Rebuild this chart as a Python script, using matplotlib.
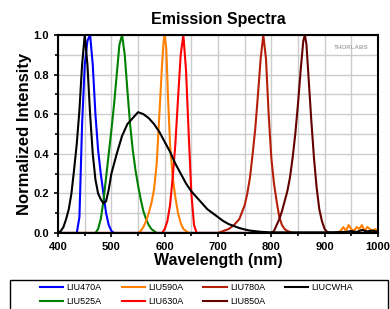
import matplotlib
matplotlib.use("Agg")
import matplotlib.pyplot as plt
from matplotlib.ticker import MultipleLocator
from matplotlib.patches import Rectangle

plt.rcParams['font.family'] = ['Liberation Sans', 'DejaVu Sans']
plt.rcParams['font.weight'] = 'bold'

# spectra (wavelength nm, normalized intensity)
wl_470 = [400, 435, 440, 445, 450, 455, 460, 465, 470, 475, 480, 485, 490, 495, 500, 505, 1000]
i_470 = [0, 0, 0.08, 0.55, 0.85, 0.97, 1.0, 0.85, 0.6, 0.42, 0.3, 0.2, 0.1, 0.04, 0.01, 0, 0]

wl_525 = [400, 470, 475, 480, 485, 490, 495, 500, 505, 510, 515, 520, 525, 530, 535, 540,
          545, 550, 555, 560, 565, 570, 575, 580, 585, 1000]
i_525 = [0, 0, 0.02, 0.07, 0.16, 0.28, 0.4, 0.52, 0.65, 0.8, 0.95, 1.0, 0.9, 0.72, 0.55, 0.42,
         0.32, 0.24, 0.17, 0.11, 0.07, 0.04, 0.02, 0.01, 0, 0]

wl_590 = [400, 550, 555, 560, 565, 570, 575, 580, 585, 590, 595, 598, 600, 603, 606, 610,
          615, 620, 625, 630, 635, 640, 645, 920, 930, 935, 940, 945, 950, 955, 960, 965,
          970, 975, 980, 985, 990, 995, 1000]
i_590 = [0, 0, 0.01, 0.03, 0.06, 0.1, 0.15, 0.22, 0.35, 0.6, 0.85, 0.97, 1.0, 0.93, 0.7, 0.45,
         0.28, 0.18, 0.1, 0.05, 0.02, 0.01, 0, 0, 0.01, 0.03, 0.01, 0.04, 0.02, 0.01, 0.03,
         0.02, 0.04, 0.01, 0.03, 0.02, 0.01, 0.02, 0.01]

wl_630 = [400, 595, 600, 605, 610, 615, 620, 625, 630, 635, 640, 645, 650, 655, 660, 1000]
i_630 = [0, 0, 0.02, 0.06, 0.14, 0.28, 0.45, 0.68, 0.9, 1.0, 0.82, 0.5, 0.2, 0.04, 0, 0]

wl_780 = [400, 700, 710, 720, 730, 740, 750, 755, 760, 765, 770, 775, 780, 785, 790, 795,
          800, 805, 810, 815, 820, 825, 830, 840, 1000]
i_780 = [0, 0, 0.01, 0.02, 0.04, 0.07, 0.14, 0.2, 0.28, 0.4, 0.53, 0.7, 0.88, 1.0, 0.88, 0.6,
         0.38, 0.25, 0.16, 0.08, 0.04, 0.02, 0.01, 0, 0]

wl_850 = [400, 800, 805, 810, 815, 820, 825, 830, 835, 840, 845, 850, 855, 860, 863, 866,
          870, 875, 880, 885, 890, 895, 900, 905, 910, 1000]
i_850 = [0, 0, 0.01, 0.04, 0.07, 0.11, 0.16, 0.21, 0.28, 0.38, 0.5, 0.65, 0.82, 0.97, 1.0, 0.95,
         0.78, 0.57, 0.38, 0.23, 0.12, 0.06, 0.02, 0.005, 0, 0]

wl_cw = [400, 405, 410, 415, 420, 425, 430, 435, 440, 445, 450, 455, 460, 465, 470, 475, 480,
         485, 490, 495, 500, 510, 520, 530, 540, 550, 560, 570, 580, 590, 600, 610, 620, 630,
         640, 650, 660, 670, 680, 690, 700, 710, 720, 730, 740, 750, 760, 780, 800, 900, 940,
         950, 960, 970, 980, 990, 1000]
i_cw = [0, 0.01, 0.03, 0.07, 0.12, 0.2, 0.32, 0.45, 0.62, 0.85, 1.0, 0.85, 0.6, 0.4, 0.27, 0.2,
        0.17, 0.15, 0.16, 0.22, 0.3, 0.4, 0.49, 0.55, 0.58, 0.61, 0.6, 0.58, 0.55, 0.51, 0.46,
        0.41, 0.35, 0.3, 0.25, 0.21, 0.18, 0.15, 0.12, 0.1, 0.08, 0.06, 0.045, 0.035, 0.025,
        0.018, 0.012, 0.006, 0.003, 0.003, 0.005, 0.01, 0.005, 0.015, 0.008, 0.012, 0.005]

series = [
    ("LIU470A", wl_470, i_470, "#0000FF"),
    ("LIU525A", wl_525, i_525, "#008000"),
    ("LIU590A", wl_590, i_590, "#FF8000"),
    ("LIU630A", wl_630, i_630, "#FF0000"),
    ("LIU780A", wl_780, i_780, "#B41E0A"),
    ("LIU850A", wl_850, i_850, "#640000"),
    ("LIUCWHA", wl_cw, i_cw, "#000000"),
]

fig = plt.figure(figsize=(3.9, 3.09), dpi=100)
ax = fig.add_axes([0.149, 0.246, 0.82, 0.641])

for name, x, y, c in series:
    ax.plot(x, y, color=c, lw=1.5, label=name)

ax.set_xlim(400, 1000)
ax.set_ylim(0, 1.0)
ax.xaxis.set_major_locator(MultipleLocator(100))
ax.xaxis.set_minor_locator(MultipleLocator(50))
ax.yaxis.set_major_locator(MultipleLocator(0.2))
ax.yaxis.set_minor_locator(MultipleLocator(0.1))
ax.yaxis.set_major_formatter(matplotlib.ticker.FormatStrFormatter('%.1f'))
ax.grid(True, which='both', color='#cccccc', lw=1)
ax.set_axisbelow(True)
ax.tick_params(which='both', direction='out', labelsize=8, width=1.2)
ax.tick_params(which='major', length=3)
ax.tick_params(which='minor', length=2)
for s in ax.spines.values():
    s.set_linewidth(1.5)

ax.set_title("Emission Spectra", fontsize=11.5, fontweight='bold', pad=8)
ax.set_xlabel("Wavelength (nm)", fontsize=11.5, fontweight='bold', labelpad=1)
ax.set_ylabel("Normalized Intensity", fontsize=12, fontweight='bold', labelpad=1)
ax.text(0.97, 0.95, "THORLABS", transform=ax.transAxes, ha='right', va='top',
        fontsize=4.5, color='#aaaaaa')

# legend frame (runs off the bottom of the image like the reference)
fig.patches.append(Rectangle((10 / 390, -0.05), 378 / 390, 0.05 + 29 / 309,
                             transform=fig.transFigure, fill=False,
                             edgecolor='black', lw=1.0))
leg = fig.legend(loc='upper left', bbox_to_anchor=(40 / 390, 1 - 283 / 309), ncol=4,
                 fontsize=6.5, frameon=False, handlelength=2.6, handletextpad=0.35,
                 columnspacing=2.2, borderaxespad=0, borderpad=0, labelspacing=0.6)
for t in leg.get_texts():
    t.set_fontweight('normal')

fig.savefig("out.png", dpi=100)
